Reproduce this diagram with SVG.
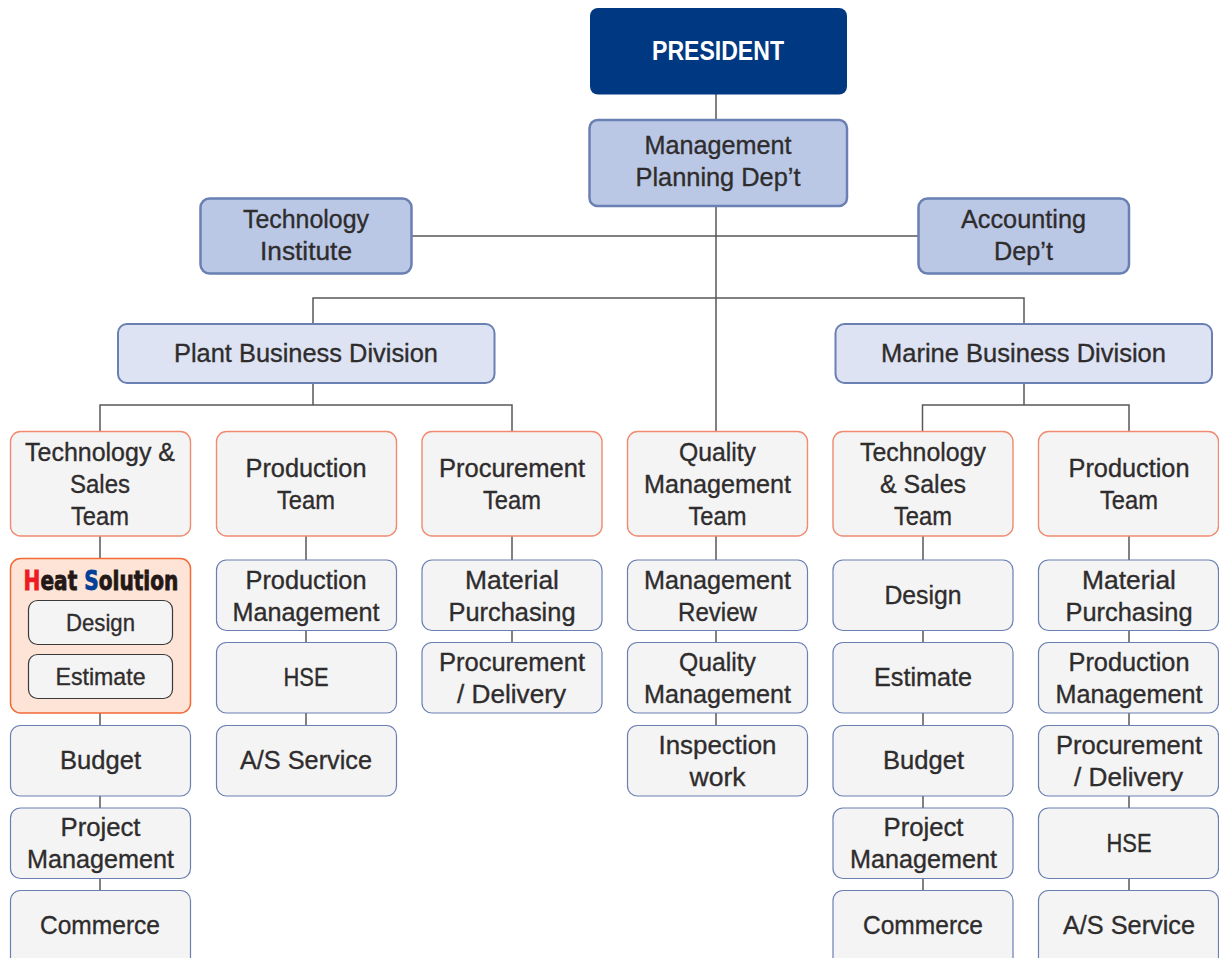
<svg xmlns="http://www.w3.org/2000/svg" width="1219" height="958" viewBox="0 0 1219 958">
<style>
text{font-family:"Liberation Sans",Arial,sans-serif;font-size:26.500px;text-anchor:middle;fill:#2f2c2d;stroke:#2f2c2d;stroke-width:.35}
.pres{fill:#003882}
.pres-t{fill:#fff;stroke:none;font-weight:bold;font-size:27px}
.dept{fill:#bac8e6;stroke:#6a7fb2;stroke-width:2.5}
.div{fill:#dde3f2;stroke:#6a7fb2;stroke-width:2}
.team{fill:#f4f4f4;stroke:#f08a70;stroke-width:1.4}
.sub{fill:#f4f4f4;stroke:#6a7fb2;stroke-width:1.2}
.heat{fill:#fde4d6;stroke:#f26a35;stroke-width:1.5}
.inner{fill:#f4f4f4;stroke:#3a3a3a;stroke-width:1.2}
.sm{font-size:24.500px}
.logo{font-family:"DejaVu Sans",sans-serif;font-weight:bold;font-size:27px;fill:#231815;stroke:#231815;stroke-width:.9}
#connectors path{fill:none;stroke:#595757;stroke-width:1.5}
</style>
<g id="connectors"><path d="M716 94V431M411 236H918M313 324V298H1024V324M313 383V405M100 431V405H512V431M1024 383V405M922.500 431V405H1129V431M100 536V559M100 713V725M100 796V808M100 878V890M306 536V560M306 631V643M306 713V725M512 536V560M512 631V643M716 536V560M716 631V643M716 713V725M923 536V560M923 631V643M923 713V725M923 796V808M923 878V890M1129 536V560M1129 631V643M1129 713V725M1129 796V808M1129 878V890"/></g>
<g id="president"><rect class="pres" x="590" y="8" width="257" height="86.500" rx="8"/><text class="pres-t" x="718" y="59.500" textLength="132" lengthAdjust="spacingAndGlyphs">PRESIDENT</text></g>
<g id="management-planning"><rect class="dept" x="589.500" y="120" width="257.500" height="86" rx="8"/><text x="718" y="154" textLength="147" lengthAdjust="spacingAndGlyphs">Management</text><text x="718" y="186" textLength="165" lengthAdjust="spacingAndGlyphs">Planning Dep’t</text></g>
<g id="technology-institute"><rect class="dept" x="200.500" y="198.500" width="211" height="75" rx="9"/><text x="306" y="228" textLength="126" lengthAdjust="spacingAndGlyphs">Technology</text><text x="306" y="260" textLength="92" lengthAdjust="spacingAndGlyphs">Institute</text></g>
<g id="accounting"><rect class="dept" x="918.500" y="198.500" width="210.500" height="75" rx="9"/><text x="1023.500" y="228" textLength="125" lengthAdjust="spacingAndGlyphs">Accounting</text><text x="1023.500" y="260" textLength="59" lengthAdjust="spacingAndGlyphs">Dep’t</text></g>
<g id="plant-division"><rect class="div" x="118" y="324" width="376.500" height="59" rx="9"/><text x="306" y="362" textLength="264" lengthAdjust="spacingAndGlyphs">Plant Business Division</text></g>
<g id="marine-division"><rect class="div" x="835.500" y="324" width="376.500" height="59" rx="9"/><text x="1023.500" y="362" textLength="285" lengthAdjust="spacingAndGlyphs">Marine Business Division</text></g>
<g id="plant-tech-team"><rect class="team" x="10.500" y="431.500" width="180" height="104.500" rx="10"/><text x="100" y="460.500" textLength="150" lengthAdjust="spacingAndGlyphs">Technology &amp;</text><text x="100" y="492.500" textLength="60" lengthAdjust="spacingAndGlyphs">Sales</text><text x="100" y="524.500" textLength="58" lengthAdjust="spacingAndGlyphs">Team</text></g>
<g id="plant-production-team"><rect class="team" x="216.500" y="431.500" width="180" height="104.500" rx="10"/><text x="306" y="476.500" textLength="121" lengthAdjust="spacingAndGlyphs">Production</text><text x="306" y="508.500" textLength="58" lengthAdjust="spacingAndGlyphs">Team</text></g>
<g id="plant-procurement-team"><rect class="team" x="422" y="431.500" width="180" height="104.500" rx="10"/><text x="512" y="476.500" textLength="146" lengthAdjust="spacingAndGlyphs">Procurement</text><text x="512" y="508.500" textLength="58" lengthAdjust="spacingAndGlyphs">Team</text></g>
<g id="quality-team"><rect class="team" x="627.500" y="431.500" width="180" height="104.500" rx="10"/><text x="717.500" y="460.500" textLength="77" lengthAdjust="spacingAndGlyphs">Quality</text><text x="717.500" y="492.500" textLength="147" lengthAdjust="spacingAndGlyphs">Management</text><text x="717.500" y="524.500" textLength="58" lengthAdjust="spacingAndGlyphs">Team</text></g>
<g id="marine-tech-team"><rect class="team" x="833" y="431.500" width="180" height="104.500" rx="10"/><text x="923" y="460.500" textLength="126" lengthAdjust="spacingAndGlyphs">Technology</text><text x="923" y="492.500" textLength="86" lengthAdjust="spacingAndGlyphs">&amp; Sales</text><text x="923" y="524.500" textLength="58" lengthAdjust="spacingAndGlyphs">Team</text></g>
<g id="marine-production-team"><rect class="team" x="1038.500" y="431.500" width="180" height="104.500" rx="10"/><text x="1129" y="476.500" textLength="121" lengthAdjust="spacingAndGlyphs">Production</text><text x="1129" y="508.500" textLength="58" lengthAdjust="spacingAndGlyphs">Team</text></g>
<g id="heat-solution"><rect class="heat" x="10.500" y="558.500" width="180" height="154.500" rx="10"/><text class="logo" transform="translate(101,590) scale(.745,1)"><tspan fill="#ed1c24" stroke="#ed1c24">H</tspan>eat <tspan fill="#004098" stroke="#004098">S</tspan>olution</text>
<rect class="inner" x="28.500" y="600.500" width="144" height="44" rx="9"/><text class="sm" x="100.500" y="631" textLength="69" lengthAdjust="spacingAndGlyphs">Design</text>
<rect class="inner" x="28.500" y="654.500" width="144" height="44" rx="9"/><text class="sm" x="100.500" y="685" textLength="90" lengthAdjust="spacingAndGlyphs">Estimate</text></g>
<g id="plant-budget"><rect class="sub" x="10.500" y="725.500" width="180" height="70.500" rx="10"/><text x="100.500" y="769" textLength="81" lengthAdjust="spacingAndGlyphs">Budget</text></g>
<g id="plant-project"><rect class="sub" x="10.500" y="808" width="180" height="70.500" rx="10"/><text x="100.500" y="835.500" textLength="80" lengthAdjust="spacingAndGlyphs">Project</text><text x="100.500" y="867.500" textLength="147" lengthAdjust="spacingAndGlyphs">Management</text></g>
<g id="plant-commerce"><rect class="sub" x="10.500" y="890.500" width="180" height="80" rx="10"/><text x="100" y="934" textLength="120" lengthAdjust="spacingAndGlyphs">Commerce</text></g>
<g id="production-management"><rect class="sub" x="216.500" y="560" width="180" height="70.500" rx="10"/><text x="306" y="588.500" textLength="121" lengthAdjust="spacingAndGlyphs">Production</text><text x="306" y="620.500" textLength="147" lengthAdjust="spacingAndGlyphs">Management</text></g>
<g id="plant-hse"><rect class="sub" x="216.500" y="642.500" width="180" height="70.500" rx="10"/><text x="306" y="686" textLength="45" lengthAdjust="spacingAndGlyphs">HSE</text></g>
<g id="plant-as"><rect class="sub" x="216.500" y="725.500" width="180" height="70.500" rx="10"/><text x="306" y="769" textLength="132" lengthAdjust="spacingAndGlyphs">A/S Service</text></g>
<g id="plant-material"><rect class="sub" x="422" y="560" width="180" height="70.500" rx="10"/><text x="512" y="588.500" textLength="94" lengthAdjust="spacingAndGlyphs">Material</text><text x="512" y="620.500" textLength="127" lengthAdjust="spacingAndGlyphs">Purchasing</text></g>
<g id="plant-delivery"><rect class="sub" x="422" y="642.500" width="180" height="70.500" rx="10"/><text x="512" y="670.500" textLength="146" lengthAdjust="spacingAndGlyphs">Procurement</text><text x="511.500" y="702.500" textLength="109" lengthAdjust="spacingAndGlyphs">/ Delivery</text></g>
<g id="management-review"><rect class="sub" x="627.500" y="560" width="180" height="70.500" rx="10"/><text x="717.500" y="588.500" textLength="147" lengthAdjust="spacingAndGlyphs">Management</text><text x="717.500" y="620.500" textLength="79" lengthAdjust="spacingAndGlyphs">Review</text></g>
<g id="quality-management"><rect class="sub" x="627.500" y="642.500" width="180" height="70.500" rx="10"/><text x="717.500" y="670.500" textLength="77" lengthAdjust="spacingAndGlyphs">Quality</text><text x="717.500" y="702.500" textLength="147" lengthAdjust="spacingAndGlyphs">Management</text></g>
<g id="inspection"><rect class="sub" x="627.500" y="725.500" width="180" height="70.500" rx="10"/><text x="717.500" y="753.500" textLength="118" lengthAdjust="spacingAndGlyphs">Inspection</text><text x="717.500" y="785.500" textLength="56" lengthAdjust="spacingAndGlyphs">work</text></g>
<g id="marine-design"><rect class="sub" x="833" y="560" width="180" height="70.500" rx="10"/><text x="923" y="604" textLength="77" lengthAdjust="spacingAndGlyphs">Design</text></g>
<g id="marine-estimate"><rect class="sub" x="833" y="642.500" width="180" height="70.500" rx="10"/><text x="923" y="686" textLength="98" lengthAdjust="spacingAndGlyphs">Estimate</text></g>
<g id="marine-budget"><rect class="sub" x="833" y="725.500" width="180" height="70.500" rx="10"/><text x="923.500" y="769" textLength="81" lengthAdjust="spacingAndGlyphs">Budget</text></g>
<g id="marine-project"><rect class="sub" x="833" y="808" width="180" height="70.500" rx="10"/><text x="923.500" y="835.500" textLength="80" lengthAdjust="spacingAndGlyphs">Project</text><text x="923.500" y="867.500" textLength="147" lengthAdjust="spacingAndGlyphs">Management</text></g>
<g id="marine-commerce"><rect class="sub" x="833" y="890.500" width="180" height="80" rx="10"/><text x="923" y="934" textLength="120" lengthAdjust="spacingAndGlyphs">Commerce</text></g>
<g id="marine-material"><rect class="sub" x="1038.500" y="560" width="180" height="70.500" rx="10"/><text x="1129" y="588.500" textLength="94" lengthAdjust="spacingAndGlyphs">Material</text><text x="1129" y="620.500" textLength="127" lengthAdjust="spacingAndGlyphs">Purchasing</text></g>
<g id="marine-production-mgmt"><rect class="sub" x="1038.500" y="642.500" width="180" height="70.500" rx="10"/><text x="1129" y="670.500" textLength="121" lengthAdjust="spacingAndGlyphs">Production</text><text x="1129" y="702.500" textLength="147" lengthAdjust="spacingAndGlyphs">Management</text></g>
<g id="marine-delivery"><rect class="sub" x="1038.500" y="725.500" width="180" height="70.500" rx="10"/><text x="1129" y="753.500" textLength="146" lengthAdjust="spacingAndGlyphs">Procurement</text><text x="1128.500" y="785.500" textLength="109" lengthAdjust="spacingAndGlyphs">/ Delivery</text></g>
<g id="marine-hse"><rect class="sub" x="1038.500" y="808" width="180" height="70.500" rx="10"/><text x="1129" y="851.500" textLength="45" lengthAdjust="spacingAndGlyphs">HSE</text></g>
<g id="marine-as"><rect class="sub" x="1038.500" y="890.500" width="180" height="80" rx="10"/><text x="1129" y="934" textLength="132" lengthAdjust="spacingAndGlyphs">A/S Service</text></g>
</svg>
